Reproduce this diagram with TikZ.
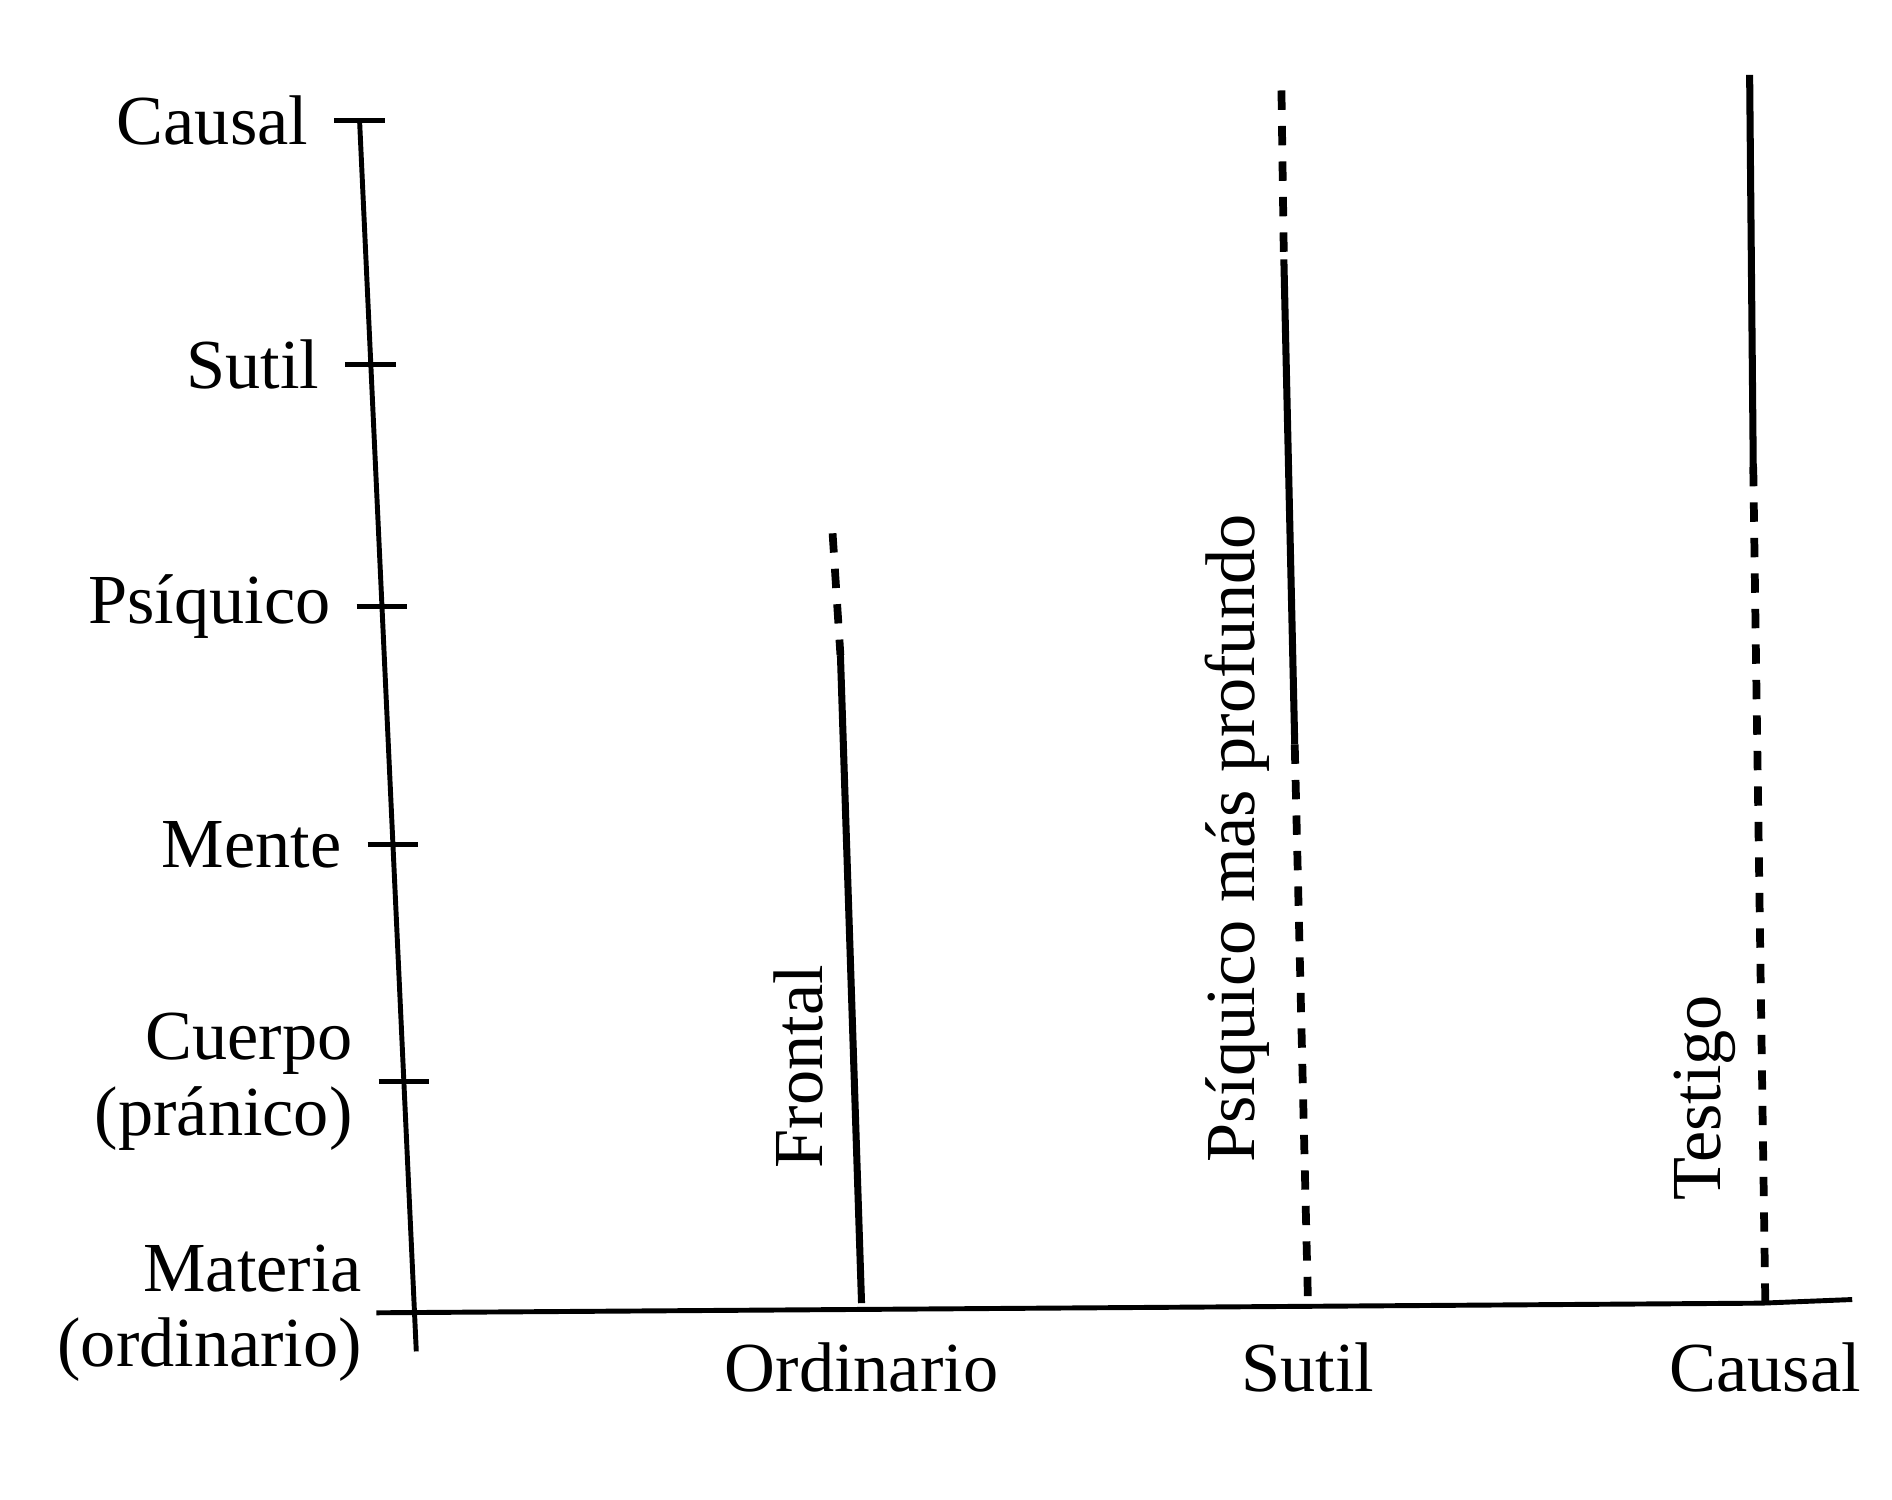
\documentclass[tikz,border=0pt]{standalone}
\usepackage{fontspec}
\setmainfont{Liberation Serif}
\usepackage{tikz}
\usetikzlibrary{calc, positioning}

\tikzset{
  axisline/.style={line width=1.4pt},
  levelsolid/.style={line width=2pt},
  leveldash/.style={line width=2.2pt, dash pattern=on 5.5pt off 4.6pt},
  lbl/.style={font=\fontsize{20}{21.5}\selectfont, inner sep=0pt},
}

\begin{document}
\begin{tikzpicture}[x=1.2066cm, y=1.2066cm]
  \useasboundingbox (0,0) rectangle (15.68,12.43);
  % axes
  \coordinate (yT) at (2.98,11.43);
  \coordinate (yB) at (3.45,1.23);
  \coordinate (x0) at (3.12,1.55);
  \coordinate (xE) at (15.35,1.66);
  \draw[axisline] (yT) -- (yB);
  \draw[axisline] (x0) -- (14.6,1.63) -- (xE);
  % ticks and levels on the left
  \foreach \f/\name/\txt in {0/causal/Causal, 0.198/sutil/Sutil, 0.395/psiq/Psíquico, 0.588/mente/Mente, 0.781/cuerpo/{Cuerpo\\(pránico)}}{
    \coordinate (t-\name) at ($(yT)!\f!(yB)$);
    \draw[axisline] ($(t-\name)+(-0.21,0)$) -- ($(t-\name)+(0.21,0)$);
    \node[lbl, anchor=east, align=right] (l-\name) at ($(t-\name)+(-0.42,0)$) {\txt};
  }
  \coordinate (t-materia) at ($(yT)!0.969!(yB)$);
  \node[lbl, anchor=east, align=right] (l-materia) at ($(t-materia)+(-0.43,0)$) {Materia\\(ordinario)};

  % frontal
  \coordinate (f-top) at (6.90,8.01);
  \coordinate (f-mid) at (6.965,7.00);
  \coordinate (f-bot) at (7.14,1.63);
  \draw[leveldash] (f-top) -- (f-mid);
  \draw[levelsolid] (f-mid) -- (f-bot);
  \node[lbl, rotate=90] (frontal) at (6.62,3.59) {Frontal};
  \node[lbl, below=3.9mm of f-bot] (ordinario) {Ordinario};

  % psiquico mas profundo
  \coordinate (p-top) at (10.62,11.68);
  \coordinate (p-up) at (10.64,10.28);
  \coordinate (p-low) at (10.73,6.26);
  \coordinate (p-bot) at (10.84,1.63);
  \draw[leveldash] (p-top) -- (p-up);
  \draw[levelsolid] (p-up) -- (p-low);
  \draw[leveldash] (p-low) -- (p-bot);
  \node[lbl, rotate=90] (profundo) at (10.25,5.48) {Psíquico más profundo};
  \node[lbl, below=3.9mm of p-bot] (sutil) {Sutil};

  % testigo
  \coordinate (c-top) at (14.50,11.81);
  \coordinate (c-mid) at (14.53,8.56);
  \coordinate (c-bot) at (14.63,1.63);
  \draw[levelsolid] (c-top) -- (c-mid);
  \draw[leveldash] (c-mid) -- (c-bot);
  \node[lbl, rotate=90] (testigo) at (14.13,3.33) {Testigo};
  \node[lbl, below=3.9mm of c-bot] (causal) {Causal};
\end{tikzpicture}
\end{document}
